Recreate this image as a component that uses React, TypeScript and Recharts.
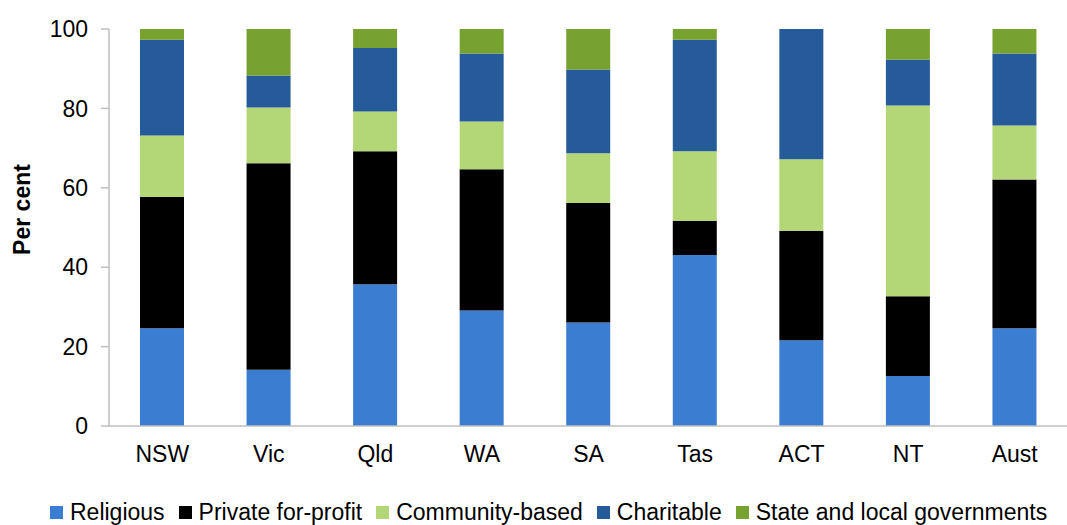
import React from 'react';
import { BarChart, Bar, XAxis, YAxis, Legend } from 'recharts';

const categories = ['NSW', 'Vic', 'Qld', 'WA', 'SA', 'Tas', 'ACT', 'NT', 'Aust'];
const religious = [24.6, 14.2, 35.7, 29.1, 26.1, 43.1, 21.6, 12.6, 24.6];
const privateForProfit = [33.1, 52.0, 33.5, 35.6, 30.1, 8.6, 27.6, 20.1, 37.5];
const communityBased = [15.5, 14.0, 10.0, 12.0, 12.5, 17.5, 18.0, 48.0, 13.6];
const charitable = [24.1, 8.1, 16.0, 17.1, 21.1, 28.1, 32.8, 11.6, 18.1];
const stateLocal = [2.7, 11.7, 4.8, 6.2, 10.2, 2.7, 0, 7.7, 6.2];
const yTicks = [0, 20, 40, 60, 80, 100];

const series = [
  { key: 'religious', name: 'Religious', color: '#3A7DD1' },
  { key: 'privateForProfit', name: 'Private for-profit', color: '#000000' },
  { key: 'communityBased', name: 'Community-based', color: '#B3D677' },
  { key: 'charitable', name: 'Charitable', color: '#265B9A' },
  { key: 'stateLocal', name: 'State and local governments', color: '#78A22F' },
];

const data = categories.map((c, i) => ({
  category: c,
  religious: religious[i],
  privateForProfit: privateForProfit[i],
  communityBased: communityBased[i],
  charitable: charitable[i],
  stateLocal: stateLocal[i],
}));

const FONT = '"Liberation Sans", Arial, sans-serif';
const FS = 23;

const LegendContent = () => (
  <div
    style={{
      display: 'flex',
      alignItems: 'center',
      fontFamily: FONT,
      fontSize: FS,
      lineHeight: '23px',
      color: '#000',
      whiteSpace: 'nowrap',
    }}
  >
    {series.map((s) => (
      <div key={s.key} style={{ display: 'flex', alignItems: 'center', marginRight: 14 }}>
        <div style={{ width: 13, height: 13, background: s.color, marginRight: 7 }} />
        <span>{s.name}</span>
      </div>
    ))}
  </div>
);

const YTitle = (props: any) => {
  const vb = props.viewBox || { x: 0, y: 0, height: 0 };
  const cx = 22;
  const cy = vb.y + vb.height / 2 - 18;
  return (
    <text
      x={cx}
      y={cy}
      transform={`rotate(-90, ${cx}, ${cy})`}
      textAnchor="middle"
      dominantBaseline="central"
      fontFamily={FONT}
      fontSize={FS}
      fontWeight="bold"
      fill="#000"
    >
      Per cent
    </text>
  );
};

export default function App() {
  return (
    <div style={{ position: 'absolute', left: 0, top: 0, width: 1067, height: 525, background: '#fff', overflow: 'hidden' }}>
      <BarChart
        width={1067}
        height={525}
        data={data}
        margin={{ top: 29, right: -1, left: 0, bottom: 26 }}
        barSize={44}
      >
        <XAxis
          dataKey="category"
          height={50}
          tickLine={false}
          tickSize={0}
          tickMargin={20}
          axisLine={{ stroke: '#BFBFBF', strokeWidth: 1.5 }}
          tick={{ fontFamily: FONT, fontSize: FS, fill: '#000' }}
        />
        <YAxis
          width={109}
          domain={[0, 100]}
          ticks={yTicks}
          interval={0}
          tickSize={8}
          tickMargin={13}
          axisLine={{ stroke: '#BFBFBF', strokeWidth: 1.5 }}
          tickLine={{ stroke: '#BFBFBF', strokeWidth: 1.5 }}
          tick={{ fontFamily: FONT, fontSize: FS, fill: '#000' }}
          label={<YTitle />}
        />
        {series.map((s) => (
          <Bar
            key={s.key}
            dataKey={s.key}
            name={s.name}
            stackId="a"
            fill={s.color}
            isAnimationActive={false}
          />
        ))}
        <Legend
          content={<LegendContent />}
          wrapperStyle={{ position: 'absolute', left: 50, top: 501, width: 'auto', bottom: 'auto' }}
        />
      </BarChart>
    </div>
  );
}
